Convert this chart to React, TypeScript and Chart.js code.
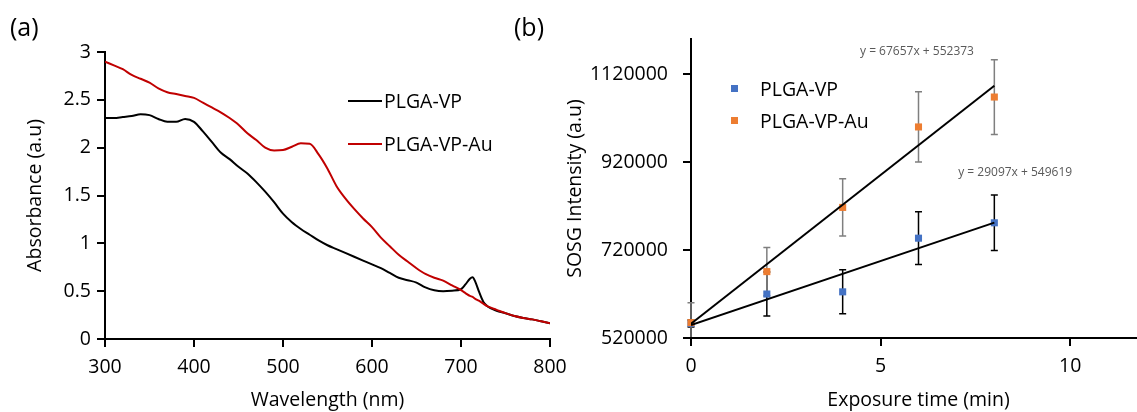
import React, { useEffect, useRef } from 'react';
import { Chart, registerables } from 'chart.js';

Chart.register(...registerables);

const FONT = '"Open Sans", Lato, sans-serif';

// ---------- Panel (a): absorbance spectra ----------
const WAVELENGTHS = [
  300, 310, 320, 330, 340, 350, 360, 370, 380, 390, 400, 410, 420, 430, 440, 450, 460, 470, 480, 490,
  500, 510, 520, 530, 540, 550, 560, 570, 580, 590, 600, 610, 620, 630, 640, 650, 660, 670, 680, 690,
  700, 705, 710, 713, 716, 720, 725, 730, 740, 750, 760, 770, 780, 790, 800,
];
const ABS_PLGA_VP = [
  2.31, 2.31, 2.32, 2.33, 2.35, 2.34, 2.3, 2.27, 2.27, 2.3, 2.27, 2.17, 2.06, 1.95, 1.88, 1.8, 1.73, 1.64, 1.54, 1.43,
  1.31, 1.22, 1.15, 1.09, 1.03, 0.98, 0.94, 0.9, 0.86, 0.82, 0.78, 0.74, 0.69, 0.64, 0.615, 0.59, 0.54, 0.51, 0.5, 0.505,
  0.52, 0.57, 0.63, 0.645, 0.6, 0.5, 0.39, 0.34, 0.295, 0.27, 0.24, 0.22, 0.205, 0.185, 0.165,
];
const ABS_PLGA_VP_AU = [
  2.9, 2.86, 2.82, 2.76, 2.72, 2.68, 2.62, 2.58, 2.56, 2.54, 2.52, 2.47, 2.42, 2.37, 2.31, 2.24, 2.15, 2.08, 2.0, 1.97,
  1.975, 2.01, 2.045, 2.04, 1.93, 1.78, 1.6, 1.47, 1.36, 1.26, 1.17, 1.06, 0.97, 0.88, 0.81, 0.74, 0.68, 0.64, 0.61, 0.56,
  0.51, 0.48, 0.45, 0.44, 0.42, 0.4, 0.37, 0.34, 0.305, 0.27, 0.24, 0.22, 0.205, 0.185, 0.165,
];
const ABS_X_TICKS = [300, 400, 500, 600, 700, 800];
const ABS_Y_TICKS = [0, 0.5, 1, 1.5, 2, 2.5, 3];

// ---------- Panel (b): SOSG intensity ----------
const EXPOSURE_TIMES = [0, 2, 4, 6, 8];
const SOSG_PLGA_VP = [553000, 620000, 625000, 747000, 782000];
const SOSG_PLGA_VP_ERR = [8000, 50000, 50000, 60000, 63000];
const SOSG_PLGA_VP_AU = [555000, 671000, 817000, 1000000, 1068000];
const SOSG_PLGA_VP_AU_ERR = [45000, 55000, 65000, 80000, 85000];
const SOSG_X_TICKS = [0, 5, 10];
const SOSG_Y_TICKS = [520000, 720000, 920000, 1120000];
const FIT_PLGA_VP_SLOPE = 29097;
const FIT_PLGA_VP_INTERCEPT = 549619;
const FIT_PLGA_VP_AU_SLOPE = 67657;
const FIT_PLGA_VP_AU_INTERCEPT = 552373;
const FIT_X_END = 8;

const FIT_LABEL_PLGA_VP_AU = 'y = 67657x + 552373';
const FIT_LABEL_PLGA_VP = 'y = 29097x + 549619';
// label anchor positions in data coordinates
const FIT_LABEL_POS_AU = { x: 5.96, y: 1171000 };
const FIT_LABEL_POS_VP = { x: 8.55, y: 896000 };

const BLUE = '#4472C4';
const ORANGE = '#ED7D31';
const RED = '#C00000';

function axis(opts: any) {
  return {
    type: 'linear',
    min: opts.min,
    max: opts.max,
    afterBuildTicks: (s: any) => {
      s.ticks = opts.ticks.map((v: number) => ({ value: v }));
    },
    afterFit: opts.afterFit,
    grid: {
      display: true,
      drawOnChartArea: false,
      drawTicks: true,
      tickLength: 8,
      color: '#000',
      lineWidth: 2,
    },
    border: { display: true, color: '#000', width: 2 },
    ticks: {
      font: { family: FONT, size: 19.5 },
      color: '#000',
      padding: opts.padding,
      maxRotation: 0,
      autoSkip: false,
      callback: (v: any) => String(v),
    },
    title: {
      display: true,
      text: opts.title,
      color: '#000',
      font: { family: FONT, size: 19.5 },
      padding: opts.titlePadding,
    },
  };
}

const errorBarPlugin = {
  id: 'errorBars',
  beforeDatasetsDraw(chart: any) {
    const { ctx, chartArea, scales } = chart;
    const xs = scales.x;
    const ys = scales.y;
    ctx.save();
    ctx.beginPath();
    ctx.rect(chartArea.left - 10, chartArea.top - 30, chartArea.right - chartArea.left + 20, chartArea.bottom - chartArea.top + 29);
    ctx.clip();
    chart.data.datasets.forEach((ds: any) => {
      if (!ds.errors) return;
      ctx.strokeStyle = ds.errorColor;
      ctx.lineWidth = 1.5;
      ds.data.forEach((p: any, j: number) => {
        const px = xs.getPixelForValue(p.x);
        const top = ys.getPixelForValue(p.y + ds.errors[j]);
        const bot = ys.getPixelForValue(p.y - ds.errors[j]);
        ctx.beginPath();
        ctx.moveTo(px, top);
        ctx.lineTo(px, bot);
        ctx.moveTo(px - 3.5, top);
        ctx.lineTo(px + 3.5, top);
        ctx.moveTo(px - 3.5, bot);
        ctx.lineTo(px + 3.5, bot);
        ctx.stroke();
      });
    });
    ctx.restore();
  },
};

const fitLabelPlugin = {
  id: 'fitLabels',
  afterDatasetsDraw(chart: any) {
    const { ctx, scales } = chart;
    ctx.save();
    ctx.font = `12px ${FONT}`;
    ctx.fillStyle = '#595959';
    ctx.textAlign = 'center';
    ctx.textBaseline = 'middle';
    [
      [FIT_LABEL_PLGA_VP_AU, FIT_LABEL_POS_AU],
      [FIT_LABEL_PLGA_VP, FIT_LABEL_POS_VP],
    ].forEach(([t, p]: any) => {
      ctx.fillText(t, scales.x.getPixelForValue(p.x), scales.y.getPixelForValue(p.y));
    });
    ctx.restore();
  },
};

function AbsorbanceChart() {
  const ref = useRef<HTMLCanvasElement>(null);
  useEffect(() => {
    const chart = new Chart(ref.current!, {
      type: 'scatter',
      data: {
        datasets: [
          {
            label: 'PLGA-VP',
            data: WAVELENGTHS.map((w, i) => ({ x: w, y: ABS_PLGA_VP[i] })),
            showLine: true,
            borderColor: '#000',
            borderWidth: 2,
            pointRadius: 0,
            cubicInterpolationMode: 'monotone',
            order: 2,
          },
          {
            label: 'PLGA-VP-Au',
            data: WAVELENGTHS.map((w, i) => ({ x: w, y: ABS_PLGA_VP_AU[i] })),
            showLine: true,
            borderColor: RED,
            borderWidth: 2,
            pointRadius: 0,
            cubicInterpolationMode: 'monotone',
            order: 1,
          },
        ],
      } as any,
      options: {
        responsive: false,
        animation: false,
        devicePixelRatio: 1,
        layout: { padding: { left: 0, top: 52, right: 70, bottom: 0 } },
        plugins: { legend: { display: false }, tooltip: { enabled: false } },
        scales: {
          x: axis({
            min: 300, max: 800, ticks: ABS_X_TICKS, padding: 9, title: 'Wavelength (nm)',
            titlePadding: { top: 0, bottom: 0 },
            afterFit: (s: any) => { s.height = 73; },
          }),
          y: axis({
            min: 0, max: 3, ticks: ABS_Y_TICKS, padding: 6, title: 'Absorbance (a.u)',
            titlePadding: { top: 24, bottom: 0 },
            afterFit: (s: any) => { s.width = 105; },
          }),
        } as any,
      },
    });
    return () => chart.destroy();
  }, []);
  return <canvas ref={ref} width={620} height={412} style={{ position: 'absolute', left: 0, top: 0 }} />;
}

function SosgChart() {
  const ref = useRef<HTMLCanvasElement>(null);
  useEffect(() => {
    const fit = (slope: number, intercept: number) => [
      { x: 0, y: intercept },
      { x: FIT_X_END, y: slope * FIT_X_END + intercept },
    ];
    const chart = new Chart(ref.current!, {
      type: 'scatter',
      data: {
        datasets: [
          {
            label: 'PLGA-VP',
            data: EXPOSURE_TIMES.map((t, i) => ({ x: t, y: SOSG_PLGA_VP[i] })),
            errors: SOSG_PLGA_VP_ERR,
            errorColor: '#000',
            pointStyle: 'rect',
            pointRadius: 5,
            backgroundColor: BLUE,
            borderWidth: 0,
            clip: false,
            order: 3,
          },
          {
            label: 'PLGA-VP-Au',
            data: EXPOSURE_TIMES.map((t, i) => ({ x: t, y: SOSG_PLGA_VP_AU[i] })),
            errors: SOSG_PLGA_VP_AU_ERR,
            errorColor: '#7F7F7F',
            pointStyle: 'rect',
            pointRadius: 5,
            backgroundColor: ORANGE,
            borderWidth: 0,
            clip: false,
            order: 2,
          },
          {
            label: 'fit VP',
            data: fit(FIT_PLGA_VP_SLOPE, FIT_PLGA_VP_INTERCEPT),
            showLine: true,
            borderColor: '#000',
            borderWidth: 2,
            pointRadius: 0,
            order: 1,
          },
          {
            label: 'fit VP-Au',
            data: fit(FIT_PLGA_VP_AU_SLOPE, FIT_PLGA_VP_AU_INTERCEPT),
            showLine: true,
            borderColor: '#000',
            borderWidth: 2,
            pointRadius: 0,
            order: 0,
          },
        ],
      } as any,
      options: {
        responsive: false,
        animation: false,
        devicePixelRatio: 1,
        layout: { padding: { left: 0, top: 39, right: 14, bottom: 0 } },
        plugins: { legend: { display: false }, tooltip: { enabled: false } },
        scales: {
          x: axis({
            min: 0, max: 12, ticks: SOSG_X_TICKS, padding: 9, title: 'Exposure time (min)',
            titlePadding: { top: 0, bottom: 0 },
            afterFit: (s: any) => { s.height = 74; },
          }),
          y: axis({
            min: 520000, max: 1200000, ticks: SOSG_Y_TICKS, padding: 15, title: 'SOSG Intensity (a.u)',
            titlePadding: { top: 4, bottom: 0 },
            afterFit: (s: any) => { s.width = 131; },
          }),
        } as any,
      },
      plugins: [errorBarPlugin, fitLabelPlugin],
    });
    return () => chart.destroy();
  }, []);
  return <canvas ref={ref} width={600} height={412} style={{ position: 'absolute', left: 560, top: 0 }} />;
}

const textStyle: React.CSSProperties = {
  position: 'absolute',
  fontFamily: FONT,
  fontSize: 19.5,
  color: '#000',
  lineHeight: '22px',
  whiteSpace: 'nowrap',
};

export default function App() {
  return (
    <div
      style={{
        position: 'absolute',
        left: 0,
        top: 0,
        width: 1137,
        height: 412,
        overflow: 'hidden',
        background: '#fff',
      }}
    >
      <AbsorbanceChart />
      <SosgChart />
      <div style={{ ...textStyle, fontSize: 25, left: 10, top: 12, lineHeight: '28px' }}>(a)</div>
      <div style={{ ...textStyle, fontSize: 25, left: 514, top: 12, lineHeight: '28px' }}>(b)</div>

      {/* legend (a) */}
      <div style={{ position: 'absolute', left: 348, top: 100, width: 34, height: 2, background: '#000' }} />
      <div style={{ ...textStyle, left: 384, top: 90 }}>PLGA-VP</div>
      <div style={{ position: 'absolute', left: 348, top: 143, width: 34, height: 2, background: RED }} />
      <div style={{ ...textStyle, left: 384, top: 133 }}>PLGA-VP-Au</div>

      {/* legend (b) */}
      <div style={{ position: 'absolute', left: 731, top: 85, width: 7, height: 7, background: BLUE }} />
      <div style={{ ...textStyle, left: 760, top: 78 }}>PLGA-VP</div>
      <div style={{ position: 'absolute', left: 731, top: 117, width: 7, height: 7, background: ORANGE }} />
      <div style={{ ...textStyle, left: 760, top: 110 }}>PLGA-VP-Au</div>
    </div>
  );
}
